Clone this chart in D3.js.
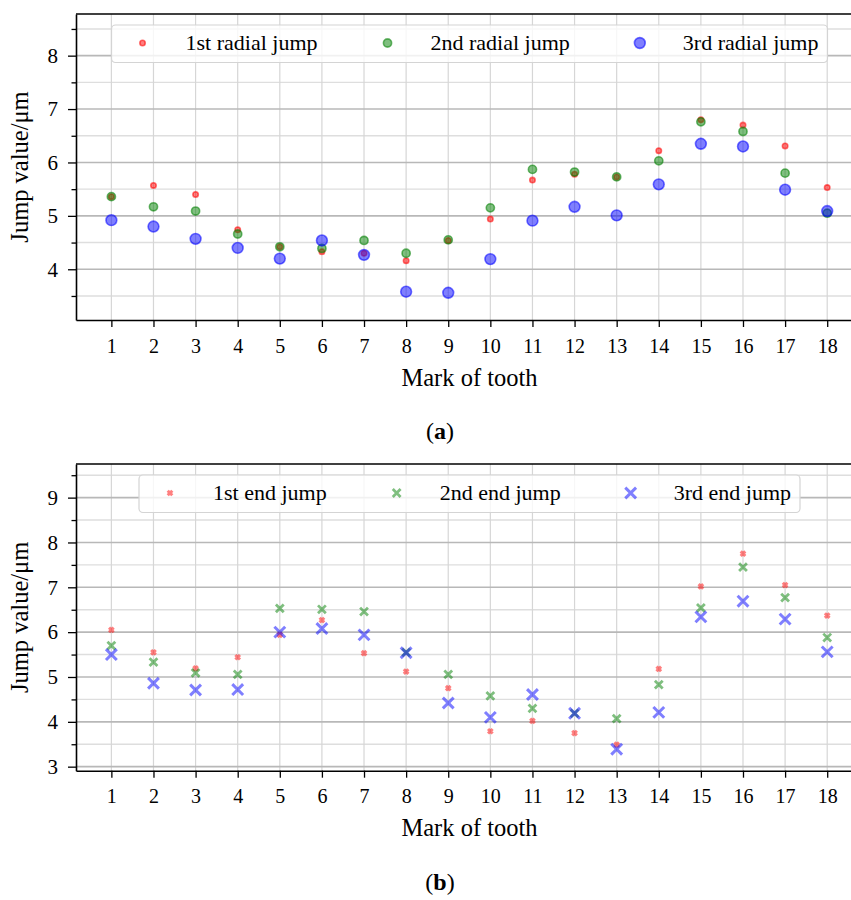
<!DOCTYPE html>
<html>
<head>
<meta charset="utf-8">
<script src="https://cdn.jsdelivr.net/npm/d3@7"></script>
<style>
  body { margin: 0; background: #fff; }
  svg text { font-family: "Liberation Serif", "Times New Roman", serif !important; fill: #000; }
</style>
</head>
<body>
<script>
const teeth = [1, 2, 3, 4, 5, 6, 7, 8, 9, 10, 11, 12, 13, 14, 15, 16, 17, 18];

// (a) radial jumps
const radial1 = [5.36, 5.57, 5.40, 4.74, 4.42, 4.33, 4.30, 4.16, 4.54, 4.94, 5.67, 5.78, 5.73, 6.22, 6.80, 6.70, 6.31, 5.53];
const radial2 = [5.36, 5.17, 5.09, 4.66, 4.42, 4.39, 4.54, 4.30, 4.55, 5.15, 5.87, 5.82, 5.73, 6.03, 6.76, 6.58, 5.80, 5.05];
const radial3 = [4.92, 4.80, 4.57, 4.40, 4.20, 4.54, 4.27, 3.58, 3.56, 4.19, 4.91, 5.17, 5.01, 5.59, 6.35, 6.30, 5.49, 5.09];

// (b) end jumps
const end1 = [6.05, 5.55, 5.19, 5.44, 5.94, 6.27, 5.53, 5.12, 4.75, 3.79, 4.02, 3.75, 3.49, 5.18, 7.02, 7.75, 7.05, 6.37];
const end2 = [5.70, 5.33, 5.09, 5.06, 6.53, 6.51, 6.46, 5.55, 5.06, 4.58, 4.30, 4.19, 4.07, 4.83, 6.54, 7.45, 6.77, 5.88];
const end3 = [5.50, 4.86, 4.71, 4.72, 6.00, 6.08, 5.94, 5.54, 4.42, 4.10, 4.61, 4.19, 3.39, 4.21, 6.34, 6.69, 6.29, 5.56];

const radialNames = ["1st radial jump", "2nd radial jump", "3rd radial jump"];
const endNames = ["1st end jump", "2nd end jump", "3rd end jump"];

const yTicksA = [4, 5, 6, 7, 8];
const yMinorA = [3.5, 4.5, 5.5, 6.5, 7.5, 8.5];
const yTicksB = [3, 4, 5, 6, 7, 8, 9];
const yMinorB = [3.5, 4.5, 5.5, 6.5, 7.5, 8.5, 9.5];

const colors = ["#ff0000", "#008000", "#0000ff"];
const serif = "'Liberation Serif', 'Times New Roman', serif";

const svg = d3.select("body").append("svg")
    .attr("width", 851)
    .attr("height", 900)
    .style("font-family", serif);

const x = d3.scaleLinear().domain([0.16, 18.85]).range([76, 863]);

function xPath(s) {
    return `M${-s},${-s}L${s},${s}M${-s},${s}L${s},${-s}`;
}

function drawMarker(g, kind, i, px, py) {
    if (kind === "circle") {
        const r = [2.7, 4.1, 5.4][i];
        g.append("circle")
            .attr("cx", px).attr("cy", py).attr("r", r)
            .attr("fill", colors[i]).attr("fill-opacity", 0.5)
            .attr("stroke", colors[i]).attr("stroke-opacity", 0.55)
            .attr("stroke-width", 1.6);
    } else {
        const s = [2.3, 3.9, 5.4][i];
        const w = [3.0, 2.8, 3.0][i];
        g.append("path")
            .attr("transform", `translate(${px},${py})`)
            .attr("d", xPath(s))
            .attr("fill", "none")
            .attr("stroke", colors[i]).attr("stroke-opacity", 0.5)
            .attr("stroke-width", w);
    }
}

function drawPanel(p) {
    const y = d3.scaleLinear().domain(p.yDomain).range([p.bottom, p.top]);
    const g = svg.append("g");

    // grid
    g.append("g").selectAll("line").data(p.minor).join("line")
        .attr("x1", 76).attr("x2", 863)
        .attr("y1", d => y(d)).attr("y2", d => y(d))
        .attr("stroke", "#dedede").attr("stroke-width", 1.4);
    g.append("g").selectAll("line").data(teeth).join("line")
        .attr("x1", d => x(d)).attr("x2", d => x(d))
        .attr("y1", p.top).attr("y2", p.bottom)
        .attr("stroke", "#d6d6d6").attr("stroke-width", 1.2);
    g.append("g").selectAll("line").data(p.major).join("line")
        .attr("x1", 76).attr("x2", 863)
        .attr("y1", d => y(d)).attr("y2", d => y(d))
        .attr("stroke", "#b8b8b8").attr("stroke-width", 1.6);

    // points
    p.series.forEach((vals, i) => {
        const sg = g.append("g");
        vals.forEach((v, j) => drawMarker(sg, p.kind, i, x(teeth[j]), y(v)));
    });

    // axes
    const xa = g.append("g")
        .attr("transform", `translate(0,${p.bottom})`)
        .call(d3.axisBottom(x).tickValues(teeth).tickFormat(d3.format("d")).tickSize(7).tickSizeOuter(0));
    xa.attr("font-family", serif);
    xa.selectAll("text").attr("y", 32.5).attr("dy", 0)
        .style("font-size", "20px").style("font-family", serif);

    const ya = g.append("g")
        .attr("transform", "translate(76,0)")
        .call(d3.axisLeft(y).tickValues(p.major).tickFormat(d3.format("d")).tickSize(8).tickPadding(10).tickSizeOuter(0));
    ya.attr("font-family", serif);
    ya.selectAll("text").style("font-size", "21px").style("font-family", serif);

    g.append("g")
        .attr("transform", "translate(76,0)")
        .call(d3.axisLeft(y).tickValues(p.minor).tickSize(4.5).tickFormat("").tickSizeOuter(0))
        .select(".domain").remove();

    g.selectAll(".domain").attr("stroke-width", 1.6);
    g.selectAll(".tick line").attr("stroke-width", 1.3);

    // top spine
    g.append("line")
        .attr("x1", 76).attr("x2", 863)
        .attr("y1", p.top).attr("y2", p.top)
        .attr("stroke", "#000").attr("stroke-width", 1.6);

    // legend
    const lg = g.append("g");
    const box = lg.append("rect");
    const texts = p.names.map(n => lg.append("text")
        .style("font-size", "22px").style("font-family", serif).text(n));
    const widths = texts.map(t => t.node().getComputedTextLength());
    const total = 31 + 43 * 3 + d3.sum(widths) + 70 * 2 + 9;
    const cx = (76 + 863) / 2;
    const left = cx - total / 2;
    const ly = p.top + 29;
    let cur = left + 31;
    texts.forEach((t, i) => {
        drawMarker(lg, p.kind, i, cur, ly);
        t.attr("x", cur + 43).attr("y", ly + 6.5);
        cur += 43 + widths[i] + 70;
    });
    box.attr("x", left).attr("y", p.top + 11)
        .attr("width", total).attr("height", 37.5)
        .attr("rx", 4)
        .attr("fill", "#fff").attr("fill-opacity", 0.8)
        .attr("stroke", "#d4d4d4").attr("stroke-width", 1.2);

    // axis labels
    svg.append("text")
        .attr("transform", `translate(28,${(p.top + p.bottom) / 2}) rotate(-90)`)
        .attr("text-anchor", "middle")
        .style("font-size", "24.5px").style("font-family", serif)
        .text("Jump value/μm");
    svg.append("text")
        .attr("x", cx).attr("y", p.bottom + 65.5)
        .attr("text-anchor", "middle")
        .style("font-size", "24.5px").style("font-family", serif)
        .text("Mark of tooth");

    const cap = svg.append("text")
        .attr("x", 440).attr("y", p.bottom + 119)
        .attr("text-anchor", "middle")
        .style("font-size", "24px").style("font-family", serif);
    cap.append("tspan").text("(");
    cap.append("tspan").style("font-weight", "bold").text(p.caption);
    cap.append("tspan").text(")");
}

drawPanel({
    top: 14, bottom: 320, yDomain: [3.05, 8.78],
    major: yTicksA, minor: yMinorA,
    series: [radial1, radial2, radial3], names: radialNames,
    kind: "circle", caption: "a"
});

drawPanel({
    top: 464, bottom: 770.7, yDomain: [2.91, 9.75],
    major: yTicksB, minor: yMinorB,
    series: [end1, end2, end3], names: endNames,
    kind: "x", caption: "b"
});
</script>
</body>
</html>
